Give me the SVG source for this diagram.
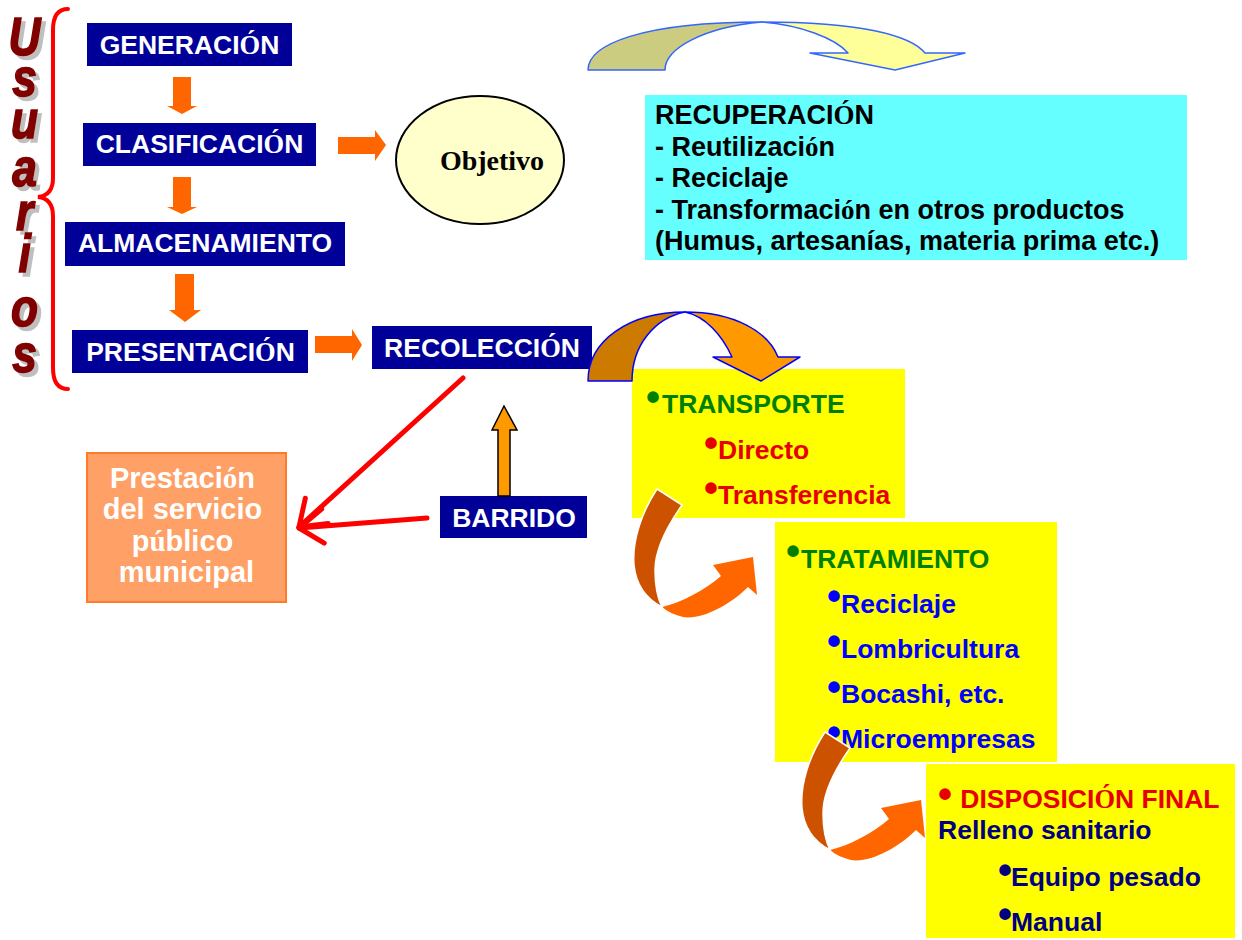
<svg xmlns="http://www.w3.org/2000/svg" xmlns:xlink="http://www.w3.org/1999/xlink" width="1242" height="940" viewBox="0 0 1242 940">
  <style>
    .sans { font-family: "Liberation Sans", Arial, sans-serif; font-weight: bold; }
    .ser { font-family: "Liberation Serif", "Times New Roman", serif; font-weight: bold; }
    .navy { fill: #000099; }
    .lbl { font-size: 26.5px; fill: #ffffff; text-anchor: middle; }
    .yel { fill: #FFFF00; }
    .item { font-size: 26.5px; }
    .bul { font-size: 40px; }
    .down { fill: #FF6600; }
    .red-line { stroke: #FF0000; stroke-width: 5; fill: none; stroke-linecap: round; }
  </style>
  <defs>
    <!-- letters of the vertical side title, coloured by the <use> -->
    <g id="usuLetters" font-family="Liberation Sans, Arial, sans-serif" font-weight="bold" font-style="italic" font-size="54" text-anchor="middle">
      <text x="30" y="55">U</text>
      <text x="30" y="96">s</text>
      <text x="30" y="138">u</text>
      <text x="30" y="186">a</text>
      <text x="30" y="230">r</text>
      <text x="30" y="272">i</text>
      <text x="30" y="326">o</text>
      <text x="30" y="372">s</text>
    </g>
    <!-- twisted ribbon arrow between the stage boxes -->
    <g id="ribbon">
      <path d="M662,607 C680,603 705,590 721,576 L713,565 L753,557 L757,595 L748,587 C730,605 702,620 683,617 C675,615 668,612 662,607 Z" fill="#FF6600"/>
      <path d="M657,489 L682,505 C668,525 655,550 655,570 C655,585 657,597 662,607 C645,598 636,585 634,565 C632,540 642,512 657,489 Z" fill="#CC5200" stroke="#ffffff" stroke-width="1.5"/>
    </g>
    <clipPath id="clipLeft">
      <rect x="0" y="0" width="926" height="940"/>
    </clipPath>
    <marker id="openHead" markerUnits="userSpaceOnUse" markerWidth="40" markerHeight="40" viewBox="-30 -20 34 40" refX="0" refY="0" orient="auto">
      <path d="M-24,-17 L0,0 L-24,17" fill="none" stroke="#FF0000" stroke-width="5" stroke-linecap="round" stroke-linejoin="round"/>
    </marker>
  </defs>

  <rect width="1242" height="940" fill="#ffffff"/>

  <!-- side title with its braces -->
  <g id="usuarios">
    <use xlink:href="#usuLetters" transform="translate(4,4) scale(0.82,1)" fill="#BFBFBF" stroke="#BFBFBF" stroke-width="1.6"/>
    <use xlink:href="#usuLetters" transform="scale(0.82,1)" fill="#800000" stroke="#800000" stroke-width="1.6"/>
    <path d="M68,9 C58,9 53,16 53,30 L53,178 C53,190 47,196 38,197 C47,198 53,204 53,216 L53,368 C53,382 58,389 68,389" fill="none" stroke="#FF0000" stroke-width="4" stroke-linecap="round"/>
  </g>

  <!-- user-side stages -->
  <g id="generacion">
    <rect class="navy" x="87" y="23" width="205" height="43"/>
    <text class="sans lbl" x="189.5" y="54">GENERACI<tspan class="ser">Ó</tspan>N</text>
  </g>
  <g id="clasificacion">
    <rect class="navy" x="83" y="123" width="233" height="43"/>
    <text class="sans lbl" x="199.5" y="153">CLASIFICACI<tspan class="ser">Ó</tspan>N</text>
  </g>
  <g id="almacenamiento">
    <rect class="navy" x="65" y="222" width="280" height="44"/>
    <text class="sans lbl" x="205" y="252">ALMACENAMIENTO</text>
  </g>
  <g id="presentacion">
    <rect class="navy" x="72" y="330" width="236" height="43"/>
    <text class="sans lbl" x="190.5" y="361">PRESENTACI<tspan class="ser">Ó</tspan>N</text>
  </g>
  <g id="recoleccion">
    <rect class="navy" x="372" y="326" width="220" height="43"/>
    <text class="sans lbl" x="482" y="357">RECOLECCI<tspan class="ser">Ó</tspan>N</text>
  </g>
  <g id="barrido">
    <rect class="navy" x="440" y="496" width="147" height="42"/>
    <text class="sans lbl" x="514" y="527">BARRIDO</text>
  </g>

  <g id="objetivo">
    <ellipse cx="480" cy="160" rx="84" ry="64" fill="#FFFFCC" stroke="#000000" stroke-width="2"/>
    <text class="ser" x="492" y="170" font-size="28" text-anchor="middle" fill="#000000">Objetivo</text>
  </g>

  <g id="recuperacion">
    <rect x="645" y="95" width="542" height="165" fill="#66FFFF"/>
    <text class="sans" font-size="27" fill="#000000">
      <tspan x="655" y="124">RECUPERACI<tspan class="ser">Ó</tspan>N</tspan>
      <tspan x="655" y="156">- Reutilizaci<tspan class="ser">ó</tspan>n</tspan>
      <tspan x="655" y="187">- Reciclaje</tspan>
      <tspan x="655" y="219">- Transformaci<tspan class="ser">ó</tspan>n en otros productos</tspan>
      <tspan x="655" y="250">(Humus, artesanías, materia prima etc.)</tspan>
    </text>
  </g>

  <g id="prestacion">
    <rect x="87" y="453" width="199" height="149" fill="#FFA066" stroke="#FF7A2A" stroke-width="2"/>
    <text class="sans" font-size="29" fill="#ffffff" text-anchor="middle">
      <tspan x="186.5" y="488">Prestaci<tspan class="ser">ó</tspan>n</tspan>
      <tspan x="186.5" y="519">del servicio</tspan>
      <tspan x="186.5" y="551">p<tspan class="ser">ú</tspan>blico</tspan>
      <tspan x="186.5" y="582">municipal</tspan>
    </text>
  </g>

  <g id="transporte">
    <rect class="yel" x="632" y="369" width="273" height="149"/>
    <text class="sans item" fill="#008000"><tspan class="bul" x="646" y="411">•</tspan><tspan x="662" y="413">TRANSPORTE</tspan></text>
    <text class="sans item" fill="#E60000"><tspan class="bul" x="704" y="457">•</tspan><tspan x="718" y="459">Directo</tspan></text>
    <text class="sans item" fill="#E60000"><tspan class="bul" x="704" y="502">•</tspan><tspan x="718" y="504">Transferencia</tspan></text>
  </g>

  <g id="tratamiento">
    <rect class="yel" x="775" y="522" width="282" height="240"/>
    <text class="sans item" fill="#008000"><tspan class="bul" x="786" y="565">•</tspan><tspan x="801" y="568">TRATAMIENTO</tspan></text>
    <text class="sans item" fill="#0000FF"><tspan class="bul" x="827" y="610">•</tspan><tspan x="841" y="613">Reciclaje</tspan></text>
    <text class="sans item" fill="#0000FF"><tspan class="bul" x="827" y="655">•</tspan><tspan x="841" y="658">Lombricultura</tspan></text>
    <text class="sans item" fill="#0000FF"><tspan class="bul" x="827" y="701">•</tspan><tspan x="841" y="703">Bocashi, etc.</tspan></text>
    <text class="sans item" fill="#0000FF"><tspan class="bul" x="827" y="746">•</tspan><tspan x="841" y="748">Microempresas</tspan></text>
  </g>

  <g id="disposicion">
    <rect class="yel" x="926" y="764" width="309" height="174"/>
    <text class="sans item" fill="#E60000"><tspan class="bul" x="938" y="808">•</tspan><tspan x="953" y="808"> DISPOSICI<tspan class="ser">Ó</tspan>N FINAL</tspan></text>
    <text class="sans item" fill="#000080" x="938" y="839">Relleno sanitario</text>
    <text class="sans item" fill="#000080"><tspan class="bul" x="998" y="884">•</tspan><tspan x="1011" y="886">Equipo pesado</tspan></text>
    <text class="sans item" fill="#000080"><tspan class="bul" x="998" y="928">•</tspan><tspan x="1011" y="931">Manual</tspan></text>
  </g>

  <!-- connectors -->
  <g id="connectors">
    <!-- block arrows down the user column -->
    <polygon class="down" points="173,77 191,77 191,106 197,106 182,114 167,106 173,106"/>
    <polygon class="down" points="173,177 191,177 191,207 197,207 182,214 167,207 173,207"/>
    <polygon class="down" points="175,274 194,274 194,310 201,310 185,322 169,310 175,310"/>
    <polygon class="down" points="338,137 375,137 375,130 386,145 375,161 375,154 338,154"/>
    <polygon class="down" points="315,336 352,336 352,329 362,345 352,361 352,353 315,353"/>

    <!-- sweeping arrow over the recovery box -->
    <path d="M588,70 C588,45 640,22 762,22 C705,27 665,48 665,70 Z" fill="#CCCC80" stroke="#3366FF" stroke-width="1.5" stroke-linejoin="round"/>
    <path d="M762,22 C860,22 910,35 925,53 L965,53 L895,70 L810,53 L848,53 C835,38 800,25 762,22 Z" fill="#FFFF99" stroke="#3366FF" stroke-width="1.5" stroke-linejoin="round"/>

    <!-- sweeping arrow from collection to transport -->
    <path d="M588,381 C588,340 630,312 685,312 C655,318 632,345 632,381 Z" fill="#CC7A00" stroke="#0000FF" stroke-width="1.5" stroke-linejoin="round"/>
    <path d="M685,312 C735,312 768,332 778,357 L800,357 L761,381 L713,357 L732,357 C722,335 705,316 685,312 Z" fill="#FF9900" stroke="#0000FF" stroke-width="1.5" stroke-linejoin="round"/>

    <!-- ribbons between the stage boxes -->
    <use xlink:href="#ribbon"/>
    <g clip-path="url(#clipLeft)">
      <use xlink:href="#ribbon" transform="translate(168,243)"/>
    </g>

    <!-- sweeping feeds collection -->
    <polygon points="498,496 498,430 492,430 504,406 517,430 510,430 510,496" fill="#FF9900" stroke="#000000" stroke-width="1.5" stroke-linejoin="miter"/>

    <!-- both lead to the municipal service -->
    <line class="red-line" x1="463" y1="378" x2="299" y2="527" marker-end="url(#openHead)"/>
    <line class="red-line" x1="427" y1="518" x2="299" y2="528" marker-end="url(#openHead)"/>
  </g>
</svg>
